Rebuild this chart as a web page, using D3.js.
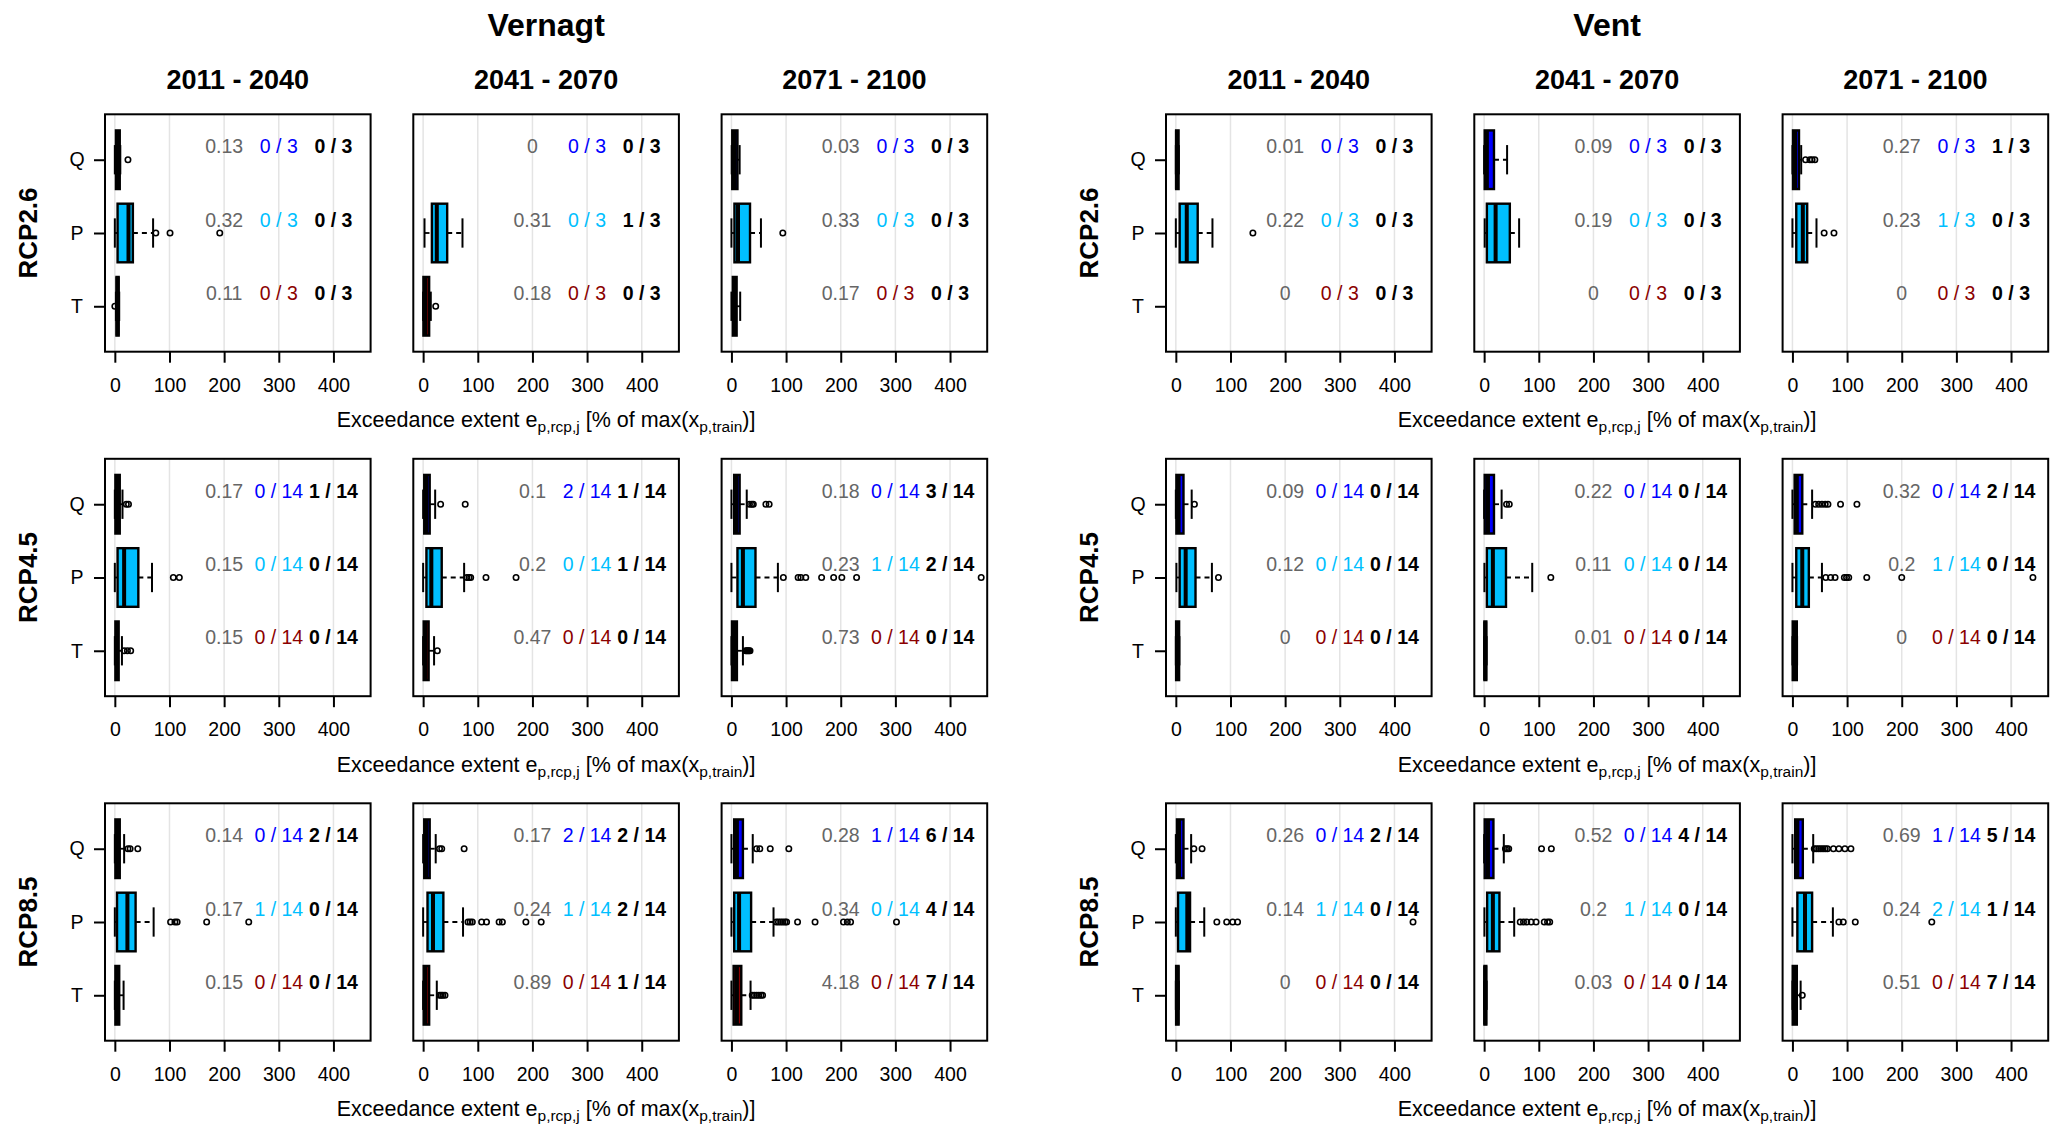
<!DOCTYPE html>
<html>
<head>
<meta charset="utf-8">
<script src="https://cdn.jsdelivr.net/npm/d3@7"></script>
<style>
  body { margin: 0; background: #fff; }
  text { font-family: Arial, "Liberation Sans", sans-serif; }
</style>
</head>
<body>
<svg id="chart" width="2067" height="1134"></svg>
<script>
// categories
const sites = ["Vernagt", "Vent"];
const scenarios = ["RCP2.6", "RCP4.5", "RCP8.5"];
const periods = ["2011 - 2040", "2041 - 2070", "2071 - 2100"];
const variables = ["Q", "P", "T"];
const members = [3, 14, 14];
const xTicks = [0, 100, 200, 300, 400];

// box statistics [lower whisker, q1, median, q3, upper whisker] per scenario / period / variable (Q, P, T)
const vernagtStats = [
  [[[0, 2, 5, 9, 10], [0, 5, 25, 33, 70], [2, 3, 5, 7, 8]],
   [null, [2.5, 16, 25, 44, 72], [0, 0.5, 4, 11, 14]],
   [[0.5, 1.5, 6, 11, 15], [0, 5.5, 12, 34, 54], [0, 2.5, 5, 9.5, 16]]],
  [[[0, 1, 5, 9, 14], [0, 5, 17, 43, 68], [0, 1, 4, 7, 13]],
   [[0, 2, 6, 12, 22], [0, 6, 15, 34, 75], [0, 1, 4, 10, 20]],
   [[0, 5, 9, 15, 28], [0, 11, 21, 44, 85], [0, 1, 5, 10, 21]]],
  [[[0, 1, 5, 9, 17], [0, 4, 23, 38, 71], [0, 1, 4, 8, 16]],
   [[0, 2, 6, 12, 23], [0, 8, 18, 37, 73], [0, 1, 4, 11, 25]],
   [[0, 5, 10, 21, 39], [0, 5, 14, 36, 77], [0, 4, 10, 18, 35]]]
];
const vernagtOutliers = [
  [[[24], [75, 101, 192], [0]],
   [[], [], [23]],
   [[], [94], []]],
  [[[21, 25], [107, 118], [17, 23, 29]],
   [[32, 77], [80, 84, 87, 115, 170], [26]],
   [[33, 37, 40, 63, 69], [95, 122, 127, 136, 165, 187, 202, 229, 457], [26, 28, 30, 32, 34]]],
  [[[24, 28, 42], [102, 110, 114, 168, 245], []],
   [[30, 34, 75], [82, 86, 90, 107, 116, 139, 145, 188, 216], [30, 33, 36, 40]],
   [[46, 52, 71, 105], [82, 86, 90, 94, 98, 101, 121, 153, 205, 212, 218, 302], [38, 42, 46, 50, 54, 57]]]
];
const ventStats = [
  [[[0, 0.5, 2, 5, 5.5], [0, 7, 20, 40, 67], null],
   [[0, 1, 5, 18, 42], [1, 5, 21, 47, 64], null],
   [[0, 1, 5, 12, 16], [0, 7, 19, 27, 44], null]],
  [[[0, 1, 5, 14, 29], [1, 7, 18, 36, 66], [0, 0.5, 3, 6, 6.5]],
   [[0, 1, 7, 18, 32], [0.5, 5, 16, 40, 88], [0, 0.5, 2, 4, 4.5]],
   [[0, 4, 8, 18, 36], [0, 7, 18, 30, 54], [0, 0.5, 3, 8, 8.5]]],
  [[[0, 2, 6, 14, 28], [0, 4, 21, 26, 52], [0, 0.5, 3, 5, 5.5]],
   [[0, 1, 7, 17, 36], [0.5, 5.5, 16, 28, 55], [0, 0.5, 2, 4, 4.5]],
   [[0, 5, 9, 19, 38], [0, 9, 23, 36, 74], [0, 0.5, 4, 8, 15]]]
];
const ventOutliers = [
  [[[], [141], []],
   [[], [], []],
   [[24, 32, 36, 41], [58, 76], []]],
  [[[34], [78], []],
   [[41, 46], [122], []],
   [[42, 48, 54, 60, 65, 88, 118], [61, 70, 78, 95, 99, 103, 136, 200, 440], []]],
  [[[33, 48], [75, 93, 104, 113, 434], []],
   [[39, 42, 45, 105, 123], [66, 72, 78, 86, 95, 110, 116, 120], []],
   [[40, 44, 48, 52, 56, 60, 64, 75, 85, 96, 107], [85, 93, 115, 255], [18]]]
];

// annotation values per scenario / period / variable
const vernagtShare = [
  [[0.13, 0.32, 0.11], [0, 0.31, 0.18], [0.03, 0.33, 0.17]],
  [[0.17, 0.15, 0.15], [0.1, 0.2, 0.47], [0.18, 0.23, 0.73]],
  [[0.14, 0.17, 0.15], [0.17, 0.24, 0.89], [0.28, 0.34, 4.18]]
];
const vernagtLow = [
  [[0, 0, 0], [0, 0, 0], [0, 0, 0]],
  [[0, 0, 0], [2, 0, 0], [0, 1, 0]],
  [[0, 1, 0], [2, 1, 0], [1, 0, 0]]
];
const vernagtHigh = [
  [[0, 0, 0], [0, 1, 0], [0, 0, 0]],
  [[1, 0, 0], [1, 1, 0], [3, 2, 0]],
  [[2, 0, 0], [2, 2, 1], [6, 4, 7]]
];
const ventShare = [
  [[0.01, 0.22, 0], [0.09, 0.19, 0], [0.27, 0.23, 0]],
  [[0.09, 0.12, 0], [0.22, 0.11, 0.01], [0.32, 0.2, 0]],
  [[0.26, 0.14, 0], [0.52, 0.2, 0.03], [0.69, 0.24, 0.51]]
];
const ventLow = [
  [[0, 0, 0], [0, 0, 0], [0, 1, 0]],
  [[0, 0, 0], [0, 0, 0], [0, 1, 0]],
  [[0, 1, 0], [0, 1, 0], [1, 2, 0]]
];
const ventHigh = [
  [[0, 0, 0], [0, 0, 0], [1, 0, 0]],
  [[0, 0, 0], [0, 0, 0], [2, 0, 0]],
  [[2, 0, 0], [4, 0, 0], [5, 1, 7]]
];

const siteData = [
  { stats: vernagtStats, out: vernagtOutliers, share: vernagtShare, low: vernagtLow, high: vernagtHigh },
  { stats: ventStats, out: ventOutliers, share: ventShare, low: ventLow, high: ventHigh }
];

const fillColors = ["#0000ff", "#00bfff", "#8b0000"];
const countColors = ["#0000ff", "#00bfff", "#8b0000"];

// layout
const groupLeft = [105, 1166];
const colStep = 308.3;
const rowTop0 = 114.3;
const rowStep = 344.5;
const pw = 265.6;
const ph = 237.4;

const svg = d3.select("#chart");

const x = d3.scaleLinear().domain([-18, 468]).range([0, pw]);
const y = d3.scaleLinear().domain([0.38, 3.62]).range([ph, 0]);
const yPos = v => 3 - v; // Q on top, T at bottom

sites.forEach((site, si) => {
  const sd = siteData[si];

  // site title above the middle column
  svg.append("text")
    .attr("x", groupLeft[si] + colStep + pw / 2)
    .attr("y", 25)
    .attr("dy", "0.35em")
    .attr("text-anchor", "middle")
    .attr("font-size", 32)
    .attr("font-weight", "bold")
    .text(site);

  scenarios.forEach((scen, ri) => {
    const top = rowTop0 + ri * rowStep;

    // row label
    svg.append("text")
      .attr("transform", `translate(${groupLeft[si] - 77.5},${top + ph / 2}) rotate(-90)`)
      .attr("dy", "0.35em")
      .attr("text-anchor", "middle")
      .attr("font-size", 26)
      .attr("font-weight", "bold")
      .text(scen);

    // x label under the middle column
    const xl = svg.append("text")
      .attr("x", groupLeft[si] + colStep + pw / 2)
      .attr("y", top + 313)
      .attr("text-anchor", "middle")
      .attr("font-size", 21.5);
    xl.append("tspan").text("Exceedance extent e");
    xl.append("tspan").attr("font-size", 15.5).attr("dy", 5).text("p,rcp,j");
    xl.append("tspan").attr("dy", -5).text(" [% of max(x");
    xl.append("tspan").attr("font-size", 15.5).attr("dy", 5).text("p,train");
    xl.append("tspan").attr("dy", -5).text(")]");

    periods.forEach((per, ci) => {
      const left = groupLeft[si] + ci * colStep;
      const g = svg.append("g").attr("transform", `translate(${left},${top})`);

      if (ri === 0) {
        svg.append("text")
          .attr("x", left + pw / 2)
          .attr("y", 80)
          .attr("dy", "0.35em")
          .attr("text-anchor", "middle")
          .attr("font-size", 27)
          .attr("font-weight", "bold")
          .text(per);
      }

      // grid
      g.selectAll("line.grid").data(xTicks).enter().append("line")
        .attr("class", "grid")
        .attr("x1", d => x(d)).attr("x2", d => x(d))
        .attr("y1", 0).attr("y2", ph)
        .attr("stroke", "#e4e4e4").attr("stroke-width", 1.5);

      // x axis
      const xa = g.append("g").attr("transform", `translate(0,${ph})`)
        .call(d3.axisBottom(x).tickValues(xTicks).tickSize(11).tickSizeOuter(0).tickPadding(15));
      xa.select(".domain").remove();
      xa.selectAll("line").attr("stroke", "#000").attr("stroke-width", 2);
      xa.selectAll("text").attr("font-size", 19.5).attr("font-family", null).attr("fill", "#000");

      // y axis (first column only)
      if (ci === 0) {
        const ya = g.append("g")
          .call(d3.axisLeft(y).tickValues([1, 2, 3]).tickSize(11).tickSizeOuter(0)
            .tickFormat(d => variables[3 - d]));
        ya.select(".domain").remove();
        ya.selectAll("line").attr("stroke", "#000").attr("stroke-width", 2);
        ya.selectAll("text").attr("font-size", 19.5).attr("font-family", null).attr("fill", "#000")
          .attr("text-anchor", "middle").attr("x", -28);
      }

      // boxes
      variables.forEach((v, vi) => {
        const s = sd.stats[ri][ci][vi];
        const yc = y(yPos(vi));
        const hb = y(0) - y(0.4);
        const hs = y(0) - y(0.2);
        if (s) {
          const [lo, q1, md, q3, hi] = s;
          g.append("line").attr("x1", x(lo)).attr("x2", x(q1)).attr("y1", yc).attr("y2", yc)
            .attr("stroke", "#000").attr("stroke-width", 1.8).attr("stroke-dasharray", "5,4");
          g.append("line").attr("x1", x(q3)).attr("x2", x(hi)).attr("y1", yc).attr("y2", yc)
            .attr("stroke", "#000").attr("stroke-width", 1.8).attr("stroke-dasharray", "5,4");
          [lo, hi].forEach(w => {
            g.append("line").attr("x1", x(w)).attr("x2", x(w)).attr("y1", yc - hs).attr("y2", yc + hs)
              .attr("stroke", "#000").attr("stroke-width", 2);
          });
          g.append("rect")
            .attr("x", x(q1)).attr("y", yc - hb)
            .attr("width", Math.max(x(q3) - x(q1), 0.5)).attr("height", 2 * hb)
            .attr("fill", fillColors[vi]).attr("stroke", "#000").attr("stroke-width", 2.4);
          g.append("line").attr("x1", x(md)).attr("x2", x(md)).attr("y1", yc - hb).attr("y2", yc + hb)
            .attr("stroke", "#000").attr("stroke-width", 4);
        }
        g.selectAll(null).data(sd.out[ri][ci][vi]).enter().append("circle")
          .attr("cx", d => x(d)).attr("cy", yc).attr("r", 2.7)
          .attr("fill", "none").attr("stroke", "#000").attr("stroke-width", 1.6);

        // annotations
        const ty = y(yPos(vi) + 0.18);
        g.append("text").attr("x", x(200)).attr("y", ty).attr("dy", "0.35em")
          .attr("text-anchor", "middle").attr("font-size", 19.5).attr("fill", "#666")
          .text(String(sd.share[ri][ci][vi]));
        g.append("text").attr("x", x(300)).attr("y", ty).attr("dy", "0.35em")
          .attr("text-anchor", "middle").attr("font-size", 19.5).attr("fill", countColors[vi])
          .text(`${sd.low[ri][ci][vi]} / ${members[ri]}`);
        g.append("text").attr("x", x(400)).attr("y", ty).attr("dy", "0.35em")
          .attr("text-anchor", "middle").attr("font-size", 19.5).attr("font-weight", "bold").attr("fill", "#000")
          .text(`${sd.high[ri][ci][vi]} / ${members[ri]}`);
      });

      // frame
      g.append("rect").attr("x", 0).attr("y", 0).attr("width", pw).attr("height", ph)
        .attr("fill", "none").attr("stroke", "#000").attr("stroke-width", 2);
    });
  });
});
</script>
</body>
</html>
